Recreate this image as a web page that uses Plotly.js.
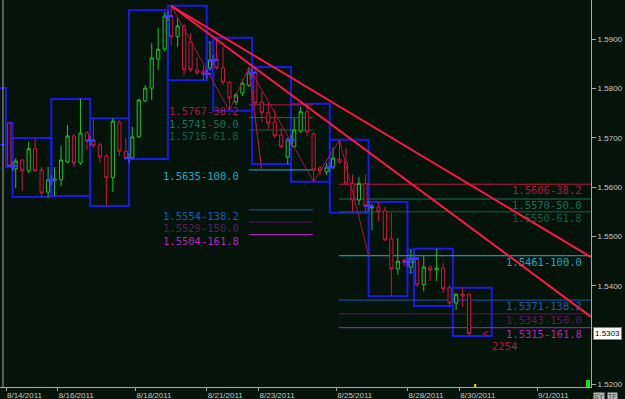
<!DOCTYPE html>
<html><head><meta charset="utf-8">
<script src="https://cdn.plot.ly/plotly-3.0.1.min.js"></script>
<style>html,body{margin:0;padding:0;background:#04140a;}#c{width:625px;height:399px;}</style>
</head><body><div id="c"></div>
<script>
// ---- candle data (4h bars, index 0 = 8/14 Sunday bar) ----
const opens  = [1.5730,1.5637,1.5655,1.5633,1.5678,1.5635,1.5590,1.5613,1.5615,1.5651,1.5704,1.5649,1.5710,1.5696,1.5686,1.5663,1.5619,1.5732,1.5673,1.5659,1.5702,1.5775,1.5801,1.5860,1.5880,1.5947,1.5905,1.5927,1.5895,1.5838,1.5836,1.5842,1.5860,1.5842,1.5813,1.5773,1.5791,1.5807,1.5832,1.5773,1.5751,1.5732,1.5706,1.5661,1.5682,1.5714,1.5753,1.5708,1.5639,1.5631,1.5641,1.5657,1.5651,1.5608,1.5574,1.5608,1.5558,1.5560,1.5552,1.5495,1.5434,1.5452,1.5438,1.5454,1.5402,1.5438,1.5432,1.5436,1.5396,1.5365,1.5383,1.5383];
const highs  = [1.5732,1.5659,1.5657,1.5692,1.5700,1.5641,1.5641,1.5641,1.5684,1.5726,1.5708,1.5779,1.5714,1.5738,1.5690,1.5667,1.5740,1.5736,1.5700,1.5722,1.5779,1.5807,1.5892,1.5923,1.5955,1.5968,1.5943,1.5931,1.5913,1.5864,1.5846,1.5895,1.5903,1.5884,1.5815,1.5791,1.5819,1.5844,1.5844,1.5793,1.5771,1.5757,1.5720,1.5700,1.5740,1.5763,1.5767,1.5712,1.5643,1.5649,1.5680,1.5696,1.5680,1.5625,1.5621,1.5625,1.5566,1.5570,1.5560,1.5548,1.5497,1.5456,1.5473,1.5456,1.5460,1.5442,1.5475,1.5446,1.5402,1.5385,1.5396,1.5385];
const lows   = [1.5641,1.5598,1.5592,1.5629,1.5631,1.5580,1.5580,1.5582,1.5602,1.5649,1.5641,1.5645,1.5675,1.5680,1.5649,1.5562,1.5590,1.5663,1.5655,1.5657,1.5700,1.5773,1.5777,1.5838,1.5875,1.5888,1.5884,1.5828,1.5834,1.5828,1.5817,1.5838,1.5838,1.5807,1.5755,1.5767,1.5785,1.5803,1.5765,1.5732,1.5716,1.5700,1.5678,1.5647,1.5680,1.5710,1.5704,1.5611,1.5625,1.5625,1.5637,1.5647,1.5604,1.5550,1.5564,1.5548,1.5513,1.5531,1.5491,1.5379,1.5422,1.5440,1.5426,1.5398,1.5389,1.5410,1.5410,1.5385,1.5359,1.5351,1.5357,1.5298];
const closes = [1.5643,1.5653,1.5633,1.5678,1.5633,1.5588,1.5615,1.5617,1.5655,1.5704,1.5649,1.5710,1.5694,1.5684,1.5661,1.5619,1.5734,1.5673,1.5659,1.5702,1.5777,1.5801,1.5862,1.5880,1.5947,1.5905,1.5927,1.5838,1.5838,1.5832,1.5830,1.5858,1.5842,1.5813,1.5781,1.5787,1.5811,1.5832,1.5771,1.5751,1.5730,1.5704,1.5682,1.5696,1.5716,1.5753,1.5712,1.5635,1.5633,1.5641,1.5659,1.5651,1.5608,1.5574,1.5608,1.5562,1.5560,1.5550,1.5493,1.5434,1.5450,1.5448,1.5456,1.5402,1.5438,1.5432,1.5436,1.5394,1.5365,1.5383,1.5379,1.5303];

// ---- daily range boxes ----
const boxStart = [-6.5,-0.5,0.5,6.5,12.5,18.5,24.5,30.5,31.5,37.5,43.5,49.5,55.5,61.5,62.5,68.5];
const boxEnd   = [-0.5,0.5,6.5,12.5,18.5,24.5,30.5,31.5,37.5,43.5,49.5,55.5,61.5,62.5,68.5,74.5];
const boxHigh  = [1.5801,1.5730,1.5700,1.5779,1.5740,1.5959,1.5968,1.5895,1.5903,1.5844,1.5769,1.5696,1.5570,1.5473,1.5475,1.5396];
const boxLow   = [1.5686,1.5641,1.5580,1.5582,1.5562,1.5657,1.5817,1.5838,1.5755,1.5647,1.5611,1.5548,1.5379,1.5426,1.5359,1.5298];

// ---- date ticks ----
const tickIdx   = [-0.5,7.5,19.5,30.5,38.5,50.5,61.5,69.5,81.5];
const tickDates = ['8/14/2011','8/16/2011','8/18/2011','8/21/2011','8/23/2011','8/25/2011','8/28/2011','8/30/2011','9/1/2011'];

// ---- fibonacci levels ----
const fibPct    = ['38.2','50.0','61.8','100.0','138.2','150.0','161.8'];
const fibA      = [1.5767,1.5741,1.5716,1.5635,1.5554,1.5529,1.5504];
const fibB      = [1.5606,1.5570,1.5550,1.5461,1.5371,1.5343,1.5315];
const fibBLevel = [1.5606,1.5576,1.5550,1.5461,1.5371,1.5343,1.5315];
const fibLine   = ['#c0143e','#1d6c5c','#195f4b','#22b2c8','#1c5cae','#521852','#b020b4'];
const fibText   = ['#a81848','#1f6d5e','#1b5c4b','#1fa9c2','#1d5db2','#581c5c','#b524b5'];
const fibASpan  = [37.0,46.9];
const fibBSpan  = [50.9,92];

// ---- trend lines (index, price) ----
const trendX  = [[25,89.83],[25,89.83]];
const trendY  = [[1.5968,1.5458],[1.5968,1.5337]];
// zigzag swing lines
const zigX = [25,34,37,39,37,47,51,55.5];
const zigY = [1.5968,1.5755,1.5844,1.5633,1.5844,1.5611,1.5696,1.5461];

const lastPrice = 1.5303;
const barCount = '2254';
const bg = '#04140a';

const idx = opens.map((_,i)=>i);
const shapes = [];
for (let k=0;k<boxStart.length;k++){
  shapes.push({type:'rect',xref:'x',yref:'y',x0:boxStart[k],x1:boxEnd[k],y0:boxLow[k],y1:boxHigh[k],
    line:{color:'#1a1ae6',width:2},fillcolor:'rgba(0,0,0,0)',layer:'below'});
}
for (let k=0;k<fibA.length;k++){
  shapes.push({type:'line',xref:'x',yref:'y',x0:fibASpan[0],x1:fibASpan[1],y0:fibA[k],y1:fibA[k],line:{color:fibLine[k],width:1},layer:'below'});
  shapes.push({type:'line',xref:'x',yref:'y',x0:fibBSpan[0],x1:fibBSpan[1],y0:fibBLevel[k],y1:fibBLevel[k],line:{color:fibLine[k],width:1},layer:'below'});
}
for (let k=0;k<trendX.length;k++){
  shapes.push({type:'line',xref:'x',yref:'y',x0:trendX[k][0],x1:trendX[k][1],y0:trendY[k][0],y1:trendY[k][1],line:{color:'#ff1744',width:2}});
}
// left border
shapes.push({type:'line',xref:'paper',yref:'paper',x0:3/591,x1:3/591,y0:0,y1:1,line:{color:'#a8a8a8',width:1}});
// small markers
shapes.push({type:'rect',xref:'paper',yref:'paper',x0:586/591,x1:590/591,y0:0,y1:7/387,fillcolor:'#18e018',line:{width:0}});
shapes.push({type:'rect',xref:'x',yref:'paper',x0:71.8,x1:72.1,y0:0,y1:3/387,fillcolor:'#e8e020',line:{width:0}});

const fibFont = 'DejaVu Sans Mono';
const fibSize = 10.5;
const annotations = [];
for (let k=0;k<fibA.length;k++){
  annotations.push({xref:'x',yref:'y',x:35.63,y:fibA[k],yshift:-6,xanchor:'right',yanchor:'middle',showarrow:false,borderpad:0,
    text:fibA[k].toFixed(4)+'-'+fibPct[k],font:{family:fibFont,size:fibSize,color:fibText[k]}});
  annotations.push({xref:'x',yref:'y',x:88.55,y:fibBLevel[k],yshift:-6,xanchor:'right',yanchor:'middle',showarrow:false,borderpad:0,
    text:fibB[k].toFixed(4)+'-'+fibPct[k],font:{family:fibFont,size:fibSize,color:fibText[k]}});
}
annotations.push({xref:'paper',yref:'y',x:1,xanchor:'left',y:lastPrice,showarrow:false,text:lastPrice.toFixed(4),
  bgcolor:'#ffffff',bordercolor:'#808080',borderwidth:1,borderpad:1,xshift:2,font:{family:'Liberation Sans',size:8,color:'#000'}});
annotations.push({xref:'x',yref:'y',x:73.5,y:lastPrice,showarrow:false,borderpad:0,text:'&lt;',font:{family:'DejaVu Sans Mono',size:10,color:'#c01040'}});
annotations.push({xref:'x',yref:'y',x:76.4,y:lastPrice,yshift:-12,showarrow:false,borderpad:0,text:barCount,font:{family:'DejaVu Sans Mono',size:10.5,color:'#c01040'}});
annotations.push({xref:'paper',yref:'paper',x:593/591,y:-5/387,xanchor:'left',yanchor:'top',showarrow:false,text:'SY',
  bgcolor:'#b8b8b8',borderpad:0,font:{family:'Liberation Sans',size:7,color:'#404040'}});
annotations.push({xref:'paper',yref:'paper',x:607/591,y:-5/387,xanchor:'left',yanchor:'top',showarrow:false,text:'TF',
  bgcolor:'#b8b8b8',borderpad:0,font:{family:'Liberation Sans',size:7,color:'#404040'}});

const crossX = boxEnd.slice(1,14);
const crossY = crossX.map(x=>closes[Math.floor(x)]);

const traces = [
  {type:'scatter',mode:'lines',x:zigX,y:zigY,line:{color:'#b01048',width:1},hoverinfo:'skip'},
  {type:'candlestick',x:idx,open:opens,high:highs,low:lows,close:closes,whiskerwidth:0,
   increasing:{line:{color:'#22c322',width:1},fillcolor:bg},
   decreasing:{line:{color:'#d4123f',width:1},fillcolor:bg}},
  {type:'scatter',mode:'markers',x:crossX,y:crossY,marker:{symbol:'cross-thin',size:7,line:{color:'#3a3aff',width:2}},hoverinfo:'skip'}
];

const layout = {
  width:625,height:399,margin:{l:0,r:34,t:0,b:12},
  paper_bgcolor:bg,plot_bgcolor:bg,showlegend:false,
  xaxis:{range:[-1.427,89.83],rangeslider:{visible:false},tickvals:tickIdx,ticktext:tickDates,
    ticks:'outside',ticklen:3,tickcolor:'#a8a8a8',showline:true,linecolor:'#a8a8a8',linewidth:1,showgrid:false,zeroline:false,
    ticklabelposition:'outside right',tickfont:{family:'Liberation Sans',size:8,color:'#c8c8c8'}},
  yaxis:{range:[1.51947,1.59797],side:'right',tickvals:[1.52,1.54,1.55,1.56,1.57,1.58,1.59],
    ticktext:['1.5200','1.5400','1.5500','1.5600','1.5700','1.5800','1.5900'],
    ticks:'outside',ticklen:4,tickcolor:'#a8a8a8',showline:true,linecolor:'#a8a8a8',linewidth:1,showgrid:false,zeroline:false,
    tickfont:{family:'Liberation Sans',size:8,color:'#c8c8c8'}},
  shapes:shapes,annotations:annotations
};
Plotly.newPlot('c',traces,layout,{displayModeBar:false,staticPlot:true});
</script></body></html>
